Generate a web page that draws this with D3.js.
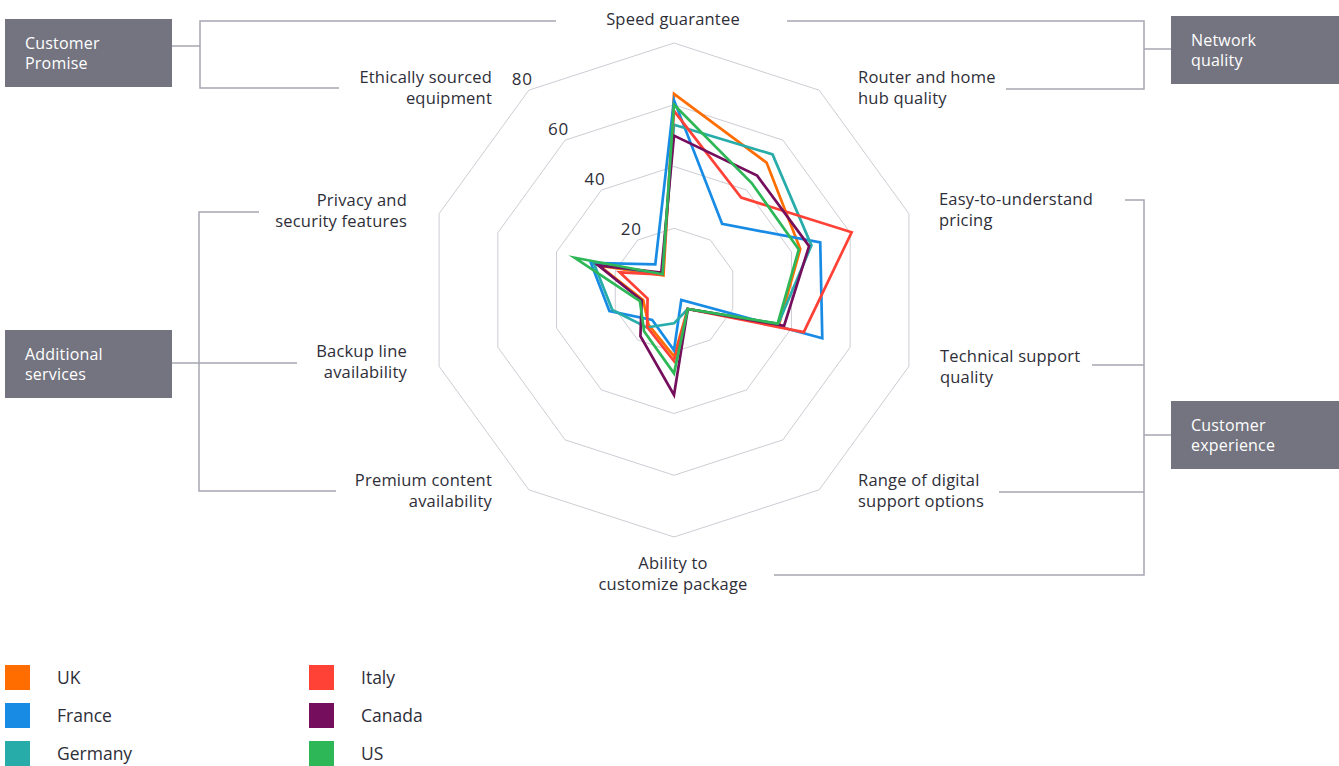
<!DOCTYPE html>
<html>
<head>
<meta charset="utf-8">
<script src="https://cdn.jsdelivr.net/npm/d3@7"></script>
<style>
  html, body { margin: 0; padding: 0; background: #ffffff; }
  svg { display: block; }
  text { font-family: "Open Sans", "Noto Sans", sans-serif; }
</style>
</head>
<body>
<svg id="chart" width="1339" height="766"></svg>
<script>
// Axes of the radar, clockwise from the top
const dimensions = [
  "Speed guarantee",
  "Router and home hub quality",
  "Easy-to-understand pricing",
  "Technical support quality",
  "Range of digital support options",
  "Ability to customize package",
  "Premium content availability",
  "Backup line availability",
  "Privacy and security features",
  "Ethically sourced equipment"
];

// Score per country, same order as the axes
const countries = ["UK", "France", "Germany", "Italy", "Canada", "US"];
const ukScores      = [63.5, 51.0, 43.0, 35.8, 7.6, 21.5, 14.0, 10.5, 25.5, 5.8];
const franceScores  = [61.5, 26.5, 49.8, 50.5, 4.0, 19.5, 12.0, 22.0, 28.3, 10.3];
const germanyScores = [53.5, 54.3, 46.8, 35.5, 7.6, 10.8, 15.0, 21.0, 27.2, 6.5];
const italyScores   = [58.0, 37.0, 60.5, 44.2, 7.6, 23.0, 14.8, 9.0, 18.5, 6.2];
const canadaScores  = [50.0, 45.8, 46.0, 37.5, 7.6, 34.0, 18.5, 11.0, 25.8, 7.0];
const usScores      = [60.0, 42.8, 42.5, 35.3, 7.6, 27.0, 16.5, 11.6, 33.8, 6.3];
const countryScores = [ukScores, franceScores, germanyScores, italyScores, canadaScores, usScores];

// Grid rings and their labels
const ringTicks = [20, 40, 60, 80];

// Theme groups of the axes
const groupNames = [["Customer", "Promise"], ["Network", "quality"], ["Additional", "services"], ["Customer", "experience"]];

// ---- styling / layout ----
const colors = ["#ff6d00", "#188ce5", "#27acaa", "#ff4136", "#750e5c", "#2db757"];
const textColor = "#2e2e38";
const gridColor = "#cdcdd4";
const bracketColor = "#a7a7b1";
const boxColor = "#747480";

const cx = 674, cy = 290, maxR = 247;

const svg = d3.select("#chart");

const r = d3.scaleLinear().domain([0, 80]).range([0, maxR]);
const angle = d3.scaleLinear().domain([0, dimensions.length]).range([0, 2 * Math.PI]);

const plot = svg.append("g").attr("transform", `translate(${cx},${cy})`);

// decagon rings
const ringLine = d3.lineRadial()
  .angle((d, i) => angle(i))
  .radius(d => r(d))
  .curve(d3.curveLinearClosed);

plot.selectAll("path.ring")
  .data(ringTicks)
  .join("path")
  .attr("class", "ring")
  .attr("d", t => ringLine(dimensions.map(() => t)))
  .attr("fill", "none")
  .attr("stroke", gridColor)
  .attr("stroke-width", 1);

// ring values along the upper-left axis
const tickAxis = 9;
plot.selectAll("text.tick")
  .data(ringTicks)
  .join("text")
  .attr("class", "tick")
  .attr("x", t => r(t) * Math.sin(angle(tickAxis)) + 4)
  .attr("y", t => -r(t) * Math.cos(angle(tickAxis)) - 5)
  .attr("text-anchor", "end")
  .attr("font-size", 17)
  .attr("letter-spacing", 0.8)
  .attr("fill", textColor)
  .text(t => t);

// country outlines
const seriesLine = d3.lineRadial()
  .angle((d, i) => angle(i))
  .radius(d => r(d))
  .curve(d3.curveLinearClosed);

plot.selectAll("path.series")
  .data(countryScores)
  .join("path")
  .attr("class", "series")
  .attr("d", d => seriesLine(d))
  .attr("fill", "none")
  .attr("stroke", (d, i) => colors[i])
  .attr("stroke-width", 2.7)
  .attr("stroke-linejoin", "miter")
  .attr("stroke-miterlimit", 6);

// axis labels
const labelLines = dimensions.map(d => ({
  "Speed guarantee": ["Speed guarantee"],
  "Router and home hub quality": ["Router and home", "hub quality"],
  "Easy-to-understand pricing": ["Easy-to-understand", "pricing"],
  "Technical support quality": ["Technical support", "quality"],
  "Range of digital support options": ["Range of digital", "support options"],
  "Ability to customize package": ["Ability to", "customize package"],
  "Premium content availability": ["Premium content", "availability"],
  "Backup line availability": ["Backup line", "availability"],
  "Privacy and security features": ["Privacy and", "security features"],
  "Ethically sourced equipment": ["Ethically sourced", "equipment"]
})[d]);

const labelPos = [
  { x: 673, y: 25, anchor: "middle" },
  { x: 858, y: 83, anchor: "start" },
  { x: 939, y: 205, anchor: "start" },
  { x: 940, y: 362, anchor: "start" },
  { x: 858, y: 486, anchor: "start" },
  { x: 673, y: 569, anchor: "middle" },
  { x: 492, y: 486, anchor: "end" },
  { x: 407, y: 357, anchor: "end" },
  { x: 407, y: 206, anchor: "end" },
  { x: 492, y: 83, anchor: "end" }
];

const labels = svg.append("g").selectAll("text")
  .data(dimensions)
  .join("text")
  .attr("x", (d, i) => labelPos[i].x)
  .attr("y", (d, i) => labelPos[i].y)
  .attr("text-anchor", (d, i) => labelPos[i].anchor)
  .attr("font-size", 16.5)
  .attr("letter-spacing", 0.2)
  .attr("fill", textColor);

labels.selectAll("tspan")
  .data((d, i) => labelLines[i].map(line => ({ line, x: labelPos[i].x })))
  .join("tspan")
  .attr("x", d => d.x)
  .attr("dy", (d, j) => j === 0 ? 0 : 20.5)
  .text(d => d.line);

// group brackets
const brackets = svg.append("g")
  .attr("fill", "none")
  .attr("stroke", bracketColor)
  .attr("stroke-width", 1.5);

const bracketPaths = [
  "M556,21 H200 V88 H339 M172,46 H200",
  "M787,21 H1144 V89 H1006 M1144,49 H1171",
  "M259,212 H199 V491 H336 M172,363 H297",
  "M1125,200 H1144 V575 H774 M1092,365 H1144 M999,492 H1144 M1144,435 H1171"
];
brackets.selectAll("path")
  .data(bracketPaths)
  .join("path")
  .attr("d", d => d);

// group boxes
const boxPos = [
  { x: 5, y: 19, w: 167, h: 68 },
  { x: 1171, y: 16, w: 168, h: 68 },
  { x: 5, y: 330, w: 167, h: 68 },
  { x: 1171, y: 401, w: 168, h: 68 }
];

const boxes = svg.append("g").selectAll("g")
  .data(groupNames)
  .join("g")
  .attr("transform", (d, i) => `translate(${boxPos[i].x},${boxPos[i].y})`);

boxes.append("rect")
  .attr("width", (d, i) => boxPos[i].w)
  .attr("height", (d, i) => boxPos[i].h)
  .attr("fill", boxColor);

boxes.append("text")
  .attr("font-size", 16)
  .attr("letter-spacing", 0.2)
  .attr("fill", "#ffffff")
  .selectAll("tspan")
  .data(d => d)
  .join("tspan")
  .attr("x", 20)
  .attr("y", (d, j) => 30 + j * 20)
  .text(d => d);

// legend
const legend = svg.append("g").selectAll("g")
  .data(countries)
  .join("g")
  .attr("transform", (d, i) => {
    const col = Math.floor(i / 3), row = i % 3;
    return `translate(${5 + col * 304},${665 + row * 38})`;
  });

legend.append("rect")
  .attr("width", 25)
  .attr("height", 25)
  .attr("fill", (d, i) => colors[i]);

legend.append("text")
  .attr("x", 52)
  .attr("y", 19)
  .attr("font-size", 17.5)
  .attr("fill", textColor)
  .text(d => d);
</script>
</body>
</html>
